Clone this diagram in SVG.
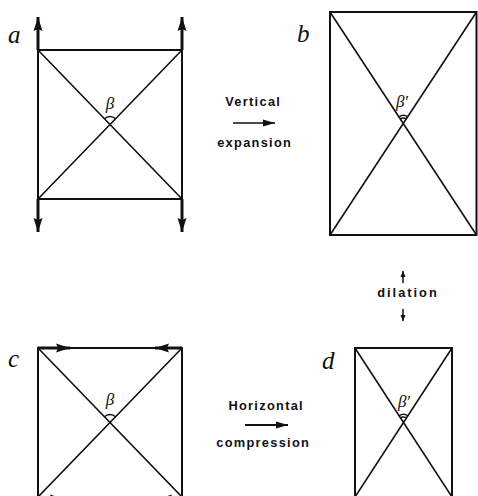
<svg xmlns="http://www.w3.org/2000/svg" width="478" height="496" viewBox="0 0 478 496">
<defs>
<marker id="force" markerUnits="userSpaceOnUse" markerWidth="16" markerHeight="12" refX="14" refY="6" orient="auto"><path d="M0,1.5 L14,6 L0,10.5 L2,6 Z" fill="#111"/></marker>
<marker id="tr" markerUnits="userSpaceOnUse" markerWidth="14" markerHeight="10" refX="12" refY="5" orient="auto"><path d="M0,1.5 L12,5 L0,8.5 Z" fill="#111"/></marker>
<marker id="sm" markerUnits="userSpaceOnUse" markerWidth="8" markerHeight="8" refX="6" refY="4" orient="auto"><path d="M0,1.5 L6,4 L0,6.5 Z" fill="#111"/></marker>
</defs>
<style>
.frame{fill:none;stroke:#111;stroke-width:2}
.diag{stroke:#111;stroke-width:1.6;fill:none}
.force{stroke:#111;stroke-width:3;marker-end:url(#force)}
.arc{fill:none;stroke:#111;stroke-width:1.5}
.lbl{font-family:"Liberation Serif",serif;font-style:italic;font-size:25px;fill:#111}
.greek{font-family:"Liberation Serif",serif;font-style:italic;font-size:17px;fill:#111;text-anchor:middle}
.cap{font-family:"Liberation Sans",Arial,sans-serif;font-weight:bold;font-size:12.8px;letter-spacing:1.3px;fill:#111;text-anchor:middle}
.conn{stroke:#111;fill:none}
</style>

<g id="panel-a">
<rect class="frame" x="38" y="50" width="144" height="149"/>
<path class="diag" d="M38,50 L182,199 M182,50 L38,199"/>
<line class="force" x1="38" y1="50" x2="38" y2="17"/>
<line class="force" x1="182" y1="50" x2="182" y2="17"/>
<line class="force" x1="38" y1="199" x2="38" y2="232"/>
<line class="force" x1="182" y1="199" x2="182" y2="232"/>
<path class="arc" d="M104.4,118.8 A8,8 0 0 1 115.6,118.8"/>
<text class="greek" x="110" y="109">β</text>
<text class="lbl" x="8" y="43">a</text>
</g>

<g id="panel-b">
<rect class="frame" x="330" y="12" width="146.5" height="223"/>
<path class="diag" d="M330,12 L476.5,235 M476.5,12 L330,235"/>
<path class="arc" d="M399.1,116.8 A8,8 0 0 1 407.9,116.8 M400.2,118.9 A5.5,5.5 0 0 1 406.2,118.9"/>
<text class="greek" x="402" y="107">β′</text>
<text class="lbl" x="297" y="42">b</text>
</g>

<g id="panel-c">
<rect class="frame" x="38" y="348" width="144" height="149"/>
<path class="diag" d="M38,348 L182,497 M182,348 L38,497"/>
<line class="force" x1="38" y1="348" x2="70" y2="348"/>
<line class="force" x1="182" y1="348" x2="155" y2="348"/>
<line class="force" x1="38" y1="499" x2="64" y2="499"/>
<line class="force" x1="182" y1="499" x2="158" y2="499"/>
<path class="arc" d="M104.4,416.8 A8,8 0 0 1 115.6,416.8"/>
<text class="greek" x="110" y="405">β</text>
<text class="lbl" x="8" y="367">c</text>
</g>

<g id="panel-d">
<rect class="frame" x="355" y="348" width="97" height="149"/>
<path class="diag" d="M355,348 L452,497 M452,348 L355,497"/>
<path class="arc" d="M399.1,415.8 A8,8 0 0 1 407.9,415.8 M400.2,417.9 A5.5,5.5 0 0 1 406.2,417.9"/>
<text class="greek" x="404" y="407">β′</text>
<text class="lbl" x="322" y="369">d</text>
</g>

<g id="connectors">
<line class="conn" stroke-width="1.5" x1="233" y1="123" x2="275" y2="123" marker-end="url(#tr)"/>
<text class="cap" x="253.2" y="106">Vertical</text>
<text class="cap" x="254.7" y="147">expansion</text>
<line class="conn" stroke-width="2" x1="245" y1="425" x2="288" y2="425" marker-end="url(#tr)"/>
<text class="cap" x="266.2" y="410">Horizontal</text>
<text class="cap" x="263.2" y="447">compression</text>
<line class="conn" stroke-width="1.5" x1="403" y1="283" x2="403" y2="271" marker-end="url(#sm)"/>
<text class="cap" style="letter-spacing:2px" x="408" y="297">dilation</text>
<line class="conn" stroke-width="1.5" x1="403" y1="309" x2="403" y2="321" marker-end="url(#sm)"/>
</g>
</svg>
